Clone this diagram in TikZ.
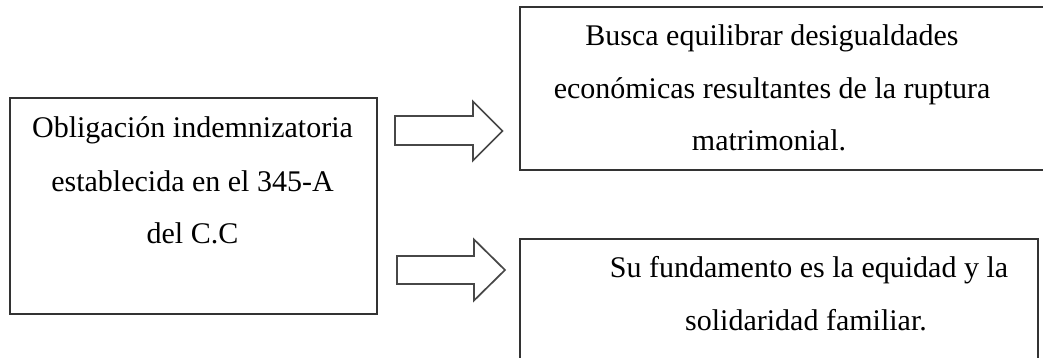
\documentclass[tikz,border=0pt]{standalone}
\usepackage{fontspec}
\setmainfont{Liberation Serif}
\begin{document}
\begin{tikzpicture}[x=1pt,y=-1pt,
  box/.style={draw=black!80,line width=1.4pt,rectangle,inner sep=0pt,outer sep=0pt},
  txt/.style={anchor=base,inner sep=0pt,font=\fontsize{30}{36}\selectfont},
  blockarrow/.style={draw=black!72,line width=1.7pt,fill=white,line join=miter}]
\useasboundingbox (0,0) rectangle (1043,358);
\clip (0,0) rectangle (1043,358);
% boxes
\node[box,minimum width=367pt,minimum height=216pt] (L) at (193.5,206) {};
\node[box,minimum width=526pt,minimum height=163pt] (R1) at (783,88.5) {};
\node[box,minimum width=518pt,minimum height=141pt] (R2) at (779,309.5) {};
% texts
\node[txt] (l1) at (192.5,138) {Obligación indemnizatoria};
\node[txt] (l2) at (192.5,191) {establecida en el 345-A};
\node[txt] (l3) at (192.5,243) {del C.C};
\node[txt] (a1) at (772,46) {Busca equilibrar desigualdades};
\node[txt] (a2) at (772,98.5) {económicas resultantes de la ruptura};
\node[txt] (a3) at (769,151) {matrimonial.};
\node[txt] (b1) at (809,277) {Su fundamento es la equidad y la};
\node[txt] (b2) at (806,330) {solidaridad familiar.};
% block arrows
\draw[blockarrow] (395,116) -- (473,116) -- (473,101.5) -- (502.5,131) -- (473,160.5) -- (473,145) -- (395,145) -- cycle;
\draw[blockarrow] (397,256) -- (474,256) -- (474,239.5) -- (505,270) -- (474,300.5) -- (474,284) -- (397,284) -- cycle;
\end{tikzpicture}
\end{document}
